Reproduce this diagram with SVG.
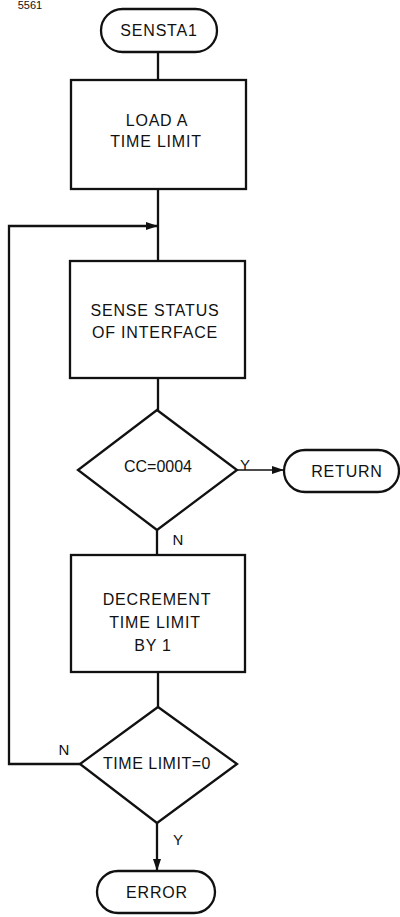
<svg xmlns="http://www.w3.org/2000/svg" width="400" height="917" viewBox="0 0 400 917">
  <defs>
    <marker id="arrow" viewBox="0 0 12 8" refX="12" refY="4" markerWidth="12" markerHeight="8" markerUnits="userSpaceOnUse" orient="auto">
      <path d="M0,0 L12,4 L0,8 Z" fill="#111"/>
    </marker>
  </defs>
  <style>
    .shape { fill: #fff; stroke: #111; stroke-width: 2.3; }
    .line { fill: none; stroke: #111; stroke-width: 2.3; }
    .thin { fill: none; stroke: #111; stroke-width: 1.4; }
    text { font-family: "Liberation Sans", Arial, sans-serif; font-size: 16px; fill: #111; text-anchor: middle; letter-spacing: 0.8px; }
    .lbl { font-size: 15px; letter-spacing: 0; }
  </style>
  <rect width="400" height="917" fill="#fff"/>

  <text x="30" y="9" style="font-size:11px;letter-spacing:0">5561</text>

  <g id="connectors">
    <line class="line" x1="158" y1="52" x2="158" y2="80"/>
    <line class="line" x1="158" y1="189" x2="158" y2="261"/>
    <line class="line" x1="158" y1="378" x2="158" y2="410"/>
    <line class="thin" x1="237" y1="470" x2="284" y2="470" marker-end="url(#arrow)"/>
    <line class="line" x1="157" y1="530" x2="157" y2="555"/>
    <line class="line" x1="158" y1="672" x2="158" y2="707"/>
    <polyline class="line" points="80,764 9,764 9,226 158,226" marker-end="url(#arrow)"/>
    <line class="line" x1="157" y1="823" x2="157" y2="871" marker-end="url(#arrow)"/>
    <text class="lbl" x="245" y="470">Y</text>
    <text class="lbl" x="178" y="545">N</text>
    <text class="lbl" x="64" y="755">N</text>
    <text class="lbl" x="178" y="845">Y</text>
  </g>

  <g id="start">
    <rect class="shape" x="101" y="9" width="116" height="43" rx="21.5"/>
    <text x="159" y="36">SENSTA1</text>
  </g>

  <g id="load-limit">
    <rect class="shape" x="71" y="80" width="175" height="109"/>
    <text x="157" y="126">LOAD A</text>
    <text x="156" y="147">TIME LIMIT</text>
  </g>

  <g id="sense-status">
    <rect class="shape" x="70" y="261" width="175" height="117"/>
    <text x="155" y="316">SENSE STATUS</text>
    <text x="155" y="338">OF INTERFACE</text>
  </g>

  <g id="cc-test">
    <polygon class="shape" points="157,410 237,470 157,530 78,470"/>
    <text x="158" y="472" style="letter-spacing:0">CC=0004</text>
  </g>

  <g id="return">
    <rect class="shape" x="284" y="450" width="115" height="42" rx="21"/>
    <text x="347" y="477">RETURN</text>
  </g>

  <g id="decrement">
    <rect class="shape" x="71" y="555" width="174" height="117"/>
    <text x="157" y="605">DECREMENT</text>
    <text x="155" y="628">TIME LIMIT</text>
    <text x="153" y="651">BY 1</text>
  </g>

  <g id="limit-test">
    <polygon class="shape" points="158,707 237,764 157,823 80,764"/>
    <text x="157" y="769" style="letter-spacing:0.5px">TIME LIMIT=0</text>
  </g>

  <g id="error">
    <rect class="shape" x="97" y="871" width="118" height="42" rx="21"/>
    <text x="157" y="898">ERROR</text>
  </g>
</svg>
